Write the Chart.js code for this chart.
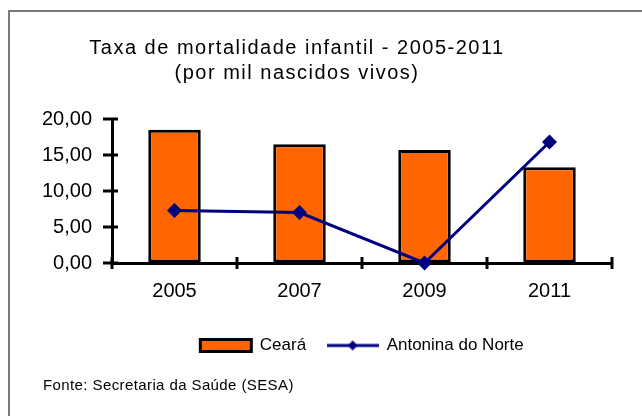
<!DOCTYPE html>
<html>
<head>
<meta charset="utf-8">
<script src="https://cdn.jsdelivr.net/npm/chart.js@4/dist/chart.umd.min.js"></script>
<style>
  html, body { margin: 0; padding: 0; background: #fff; }
  #wrap { position: relative; width: 642px; height: 416px; }
  #moldura { position: absolute; left: 8px; top: 10px; right: -10px; bottom: -10px;
             border-top: 2px solid #7a7a7a; border-left: 2px solid #7a7a7a; }
  #grafico { position: absolute; left: 0; top: 0; }
</style>
</head>
<body>
<div id="wrap">
  <div id="moldura"></div>
  <canvas id="grafico" width="642" height="416"></canvas>
</div>
<script>
// Dados
var anos = ['2005', '2007', '2009', '2011'];
var ceara = [18.5, 16.5, 15.7, 13.3];
var antonina = [7.3, 7.0, 0.0, 16.8];
var titulo = ['Taxa de mortalidade infantil - 2005-2011', '(por mil nascidos vivos)'];
var fonte = 'Fonte: Secretaria da Saúde (SESA)';

var fam = '"Liberation Sans", Arial, sans-serif';

// ícone da legenda para a linha (linha com losango)
var iconeLinha = document.createElement('canvas');
iconeLinha.width = 52;
iconeLinha.height = 14;
(function () {
  var c = iconeLinha.getContext('2d');
  c.strokeStyle = '#000080';
  c.lineWidth = 3;
  c.beginPath();
  c.moveTo(0, 7);
  c.lineTo(52, 7);
  c.stroke();
  c.fillStyle = '#000080';
  c.beginPath();
  c.moveTo(26, 2);
  c.lineTo(31, 7);
  c.lineTo(26, 12);
  c.lineTo(21, 7);
  c.closePath();
  c.fill();
})();

// marcas dos eixos cruzando a linha, título e fonte
var extras = {
  id: 'extras',
  afterDraw: function (chart) {
    var c = chart.ctx;
    var area = chart.chartArea;
    var xs = chart.scales.x, ys = chart.scales.y;
    c.save();
    c.strokeStyle = '#000';
    c.lineWidth = 3;
    ys.ticks.forEach(function (t) {
      var y = ys.getPixelForValue(t.value);
      c.beginPath();
      c.moveTo(area.left - 9, y);
      c.lineTo(area.left + 6, y);
      c.stroke();
    });
    for (var i = 0; i <= anos.length; i++) {
      var x = xs.getPixelForValue(i - 0.5);
      c.beginPath();
      c.moveTo(x, area.bottom - 6);
      c.lineTo(x, area.bottom + 6);
      c.stroke();
    }

    c.fillStyle = '#000';
    c.textAlign = 'center';
    c.textBaseline = 'middle';
    c.font = '20px ' + fam;
    c.letterSpacing = '1.5px';
    c.fillText(titulo[0], 297, 48);
    c.fillText(titulo[1], 297, 73);

    c.textAlign = 'left';
    c.font = '15px ' + fam;
    c.letterSpacing = '0.4px';
    c.fillText(fonte, 43, 386);
    c.restore();
  }
};

var ctx = document.getElementById('grafico').getContext('2d');

var grafico = new Chart(ctx, {
  type: 'bar',
  data: {
    labels: anos,
    datasets: [{
      type: 'bar',
      label: 'Ceará',
      data: ceara,
      backgroundColor: '#FF6600',
      borderColor: '#000',
      borderWidth: 3,
      borderSkipped: false,
      categoryPercentage: 0.42,
      barPercentage: 1,
      order: 2
    }, {
      type: 'line',
      label: 'Antonina do Norte',
      data: antonina,
      borderColor: '#000080',
      borderWidth: 3,
      pointStyle: 'rectRot',
      pointRadius: 7.5,
      pointBackgroundColor: '#000080',
      pointBorderColor: '#000080',
      pointBorderWidth: 0,
      tension: 0,
      clip: false,
      order: 1
    }]
  },
  options: {
    responsive: false,
    animation: false,
    devicePixelRatio: 1,
    layout: {
      padding: { top: 119, bottom: 52, left: 0, right: 30 }
    },
    plugins: {
      title: { display: false },
      tooltip: { enabled: false },
      legend: {
        position: 'bottom',
        fullSize: false,
        labels: {
          usePointStyle: true,
          pointStyleWidth: 51,
          boxHeight: 12,
          padding: 21,
          color: '#000',
          font: { family: fam, size: 17 },
          generateLabels: function (chart) {
            var ds = chart.data.datasets;
            return [{
              text: ds[0].label,
              fillStyle: '#FF6600',
              strokeStyle: '#000',
              lineWidth: 3,
              pointStyle: 'rect',
              hidden: false,
              datasetIndex: 0,
              fontColor: '#000'
            }, {
              text: ds[1].label,
              fillStyle: '#000080',
              strokeStyle: '#000080',
              lineWidth: 0,
              pointStyle: iconeLinha,
              hidden: false,
              datasetIndex: 1,
              fontColor: '#000'
            }];
          }
        }
      }
    },
    scales: {
      x: {
        afterFit: function (s) { s.height = 53; },
        grid: { display: true, drawOnChartArea: false, drawTicks: false, offset: true },
        border: { color: '#000', width: 3 },
        ticks: { color: '#000', padding: 16, font: { family: fam, size: 20 } }
      },
      y: {
        min: 0,
        max: 20,
        afterFit: function (s) { s.width = 112; },
        grid: { display: true, drawOnChartArea: false, drawTicks: false },
        border: { color: '#000', width: 3 },
        ticks: {
          stepSize: 5,
          color: '#000',
          padding: 20,
          font: { family: fam, size: 20 },
          callback: function (v) { return v.toFixed(2).replace('.', ','); }
        }
      }
    }
  },
  plugins: [extras]
});
</script>
</body>
</html>
